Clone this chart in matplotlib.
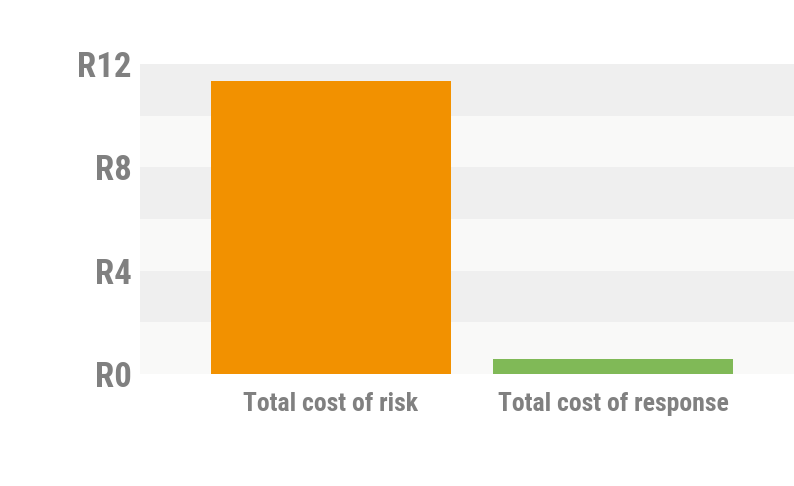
import matplotlib
matplotlib.use("Agg")
import matplotlib.pyplot as plt

categories = ["Total cost of risk", "Total cost of response"]
values = [11.35, 0.57]
bar_colors = ["#F29100", "#80B957"]
y_ticks = [0, 4, 8, 12]
y_tick_labels = ["R0", "R4", "R8", "R12"]

family = ["Roboto Condensed", "DejaVu Sans"]
text_color = "#808080"

W, H = 794, 486
fig = plt.figure(figsize=(W / 100, H / 100), dpi=100)
ax = fig.add_axes([140 / W, (H - 374) / H, (W - 140) / W, (374 - 64) / H])

# alternating horizontal bands every 2 units
for lo in range(0, 12, 2):
    ax.axhspan(lo, lo + 2, color="#F9F9F8" if (lo // 2) % 2 == 0 else "#EFEFEF",
               lw=0, zorder=0)

ax.bar(range(len(categories)), values, width=0.851, color=bar_colors, zorder=2)

ax.set_xlim(-0.677, 1.642)
ax.set_ylim(0, 12)
ax.set_yticks(y_ticks)
ax.set_yticklabels(y_tick_labels, family=family, fontweight="bold",
                   fontsize=25, color=text_color)
ax.set_xticks(range(len(categories)))
ax.set_xticklabels(categories, family=family, fontweight="bold",
                   fontsize=18.5, color=text_color)
ax.tick_params(axis="y", length=0, pad=6)
ax.tick_params(axis="x", length=0, pad=13)
for s in ax.spines.values():
    s.set_visible(False)

fig.savefig("out.png", dpi=100, facecolor="white")
